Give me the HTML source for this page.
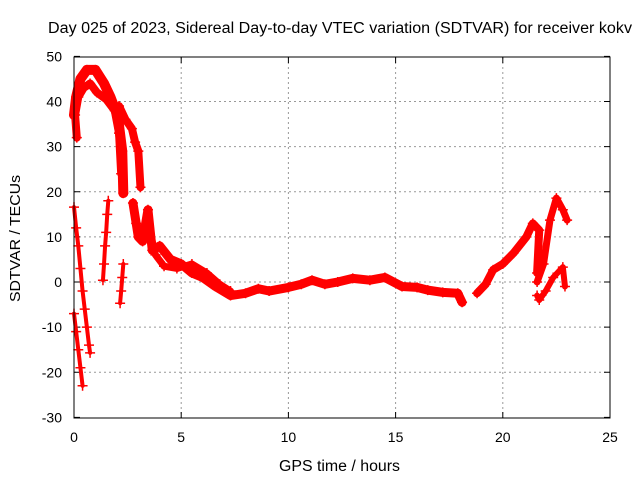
<!DOCTYPE html>
<html><head><meta charset="utf-8"><style>
body{margin:0;background:#fff;}
svg text{font-family:"Liberation Sans",sans-serif;font-size:14px;fill:#000;}
</style></head><body>
<svg id="chart" width="640" height="480" viewBox="0 0 640 480" xmlns="http://www.w3.org/2000/svg">
<text x="48" y="33" textLength="584" lengthAdjust="spacingAndGlyphs" style="font-size:15.5px">Day 025 of 2023, Sidereal Day-to-day VTEC variation (SDTVAR) for receiver kokv</text>
<text x="279" y="471" textLength="121" lengthAdjust="spacingAndGlyphs" style="font-size:15.5px">GPS time / hours</text>
<text transform="translate(20,302) rotate(-90)" textLength="127" lengthAdjust="spacingAndGlyphs" style="font-size:14.5px">SDTVAR / TECUs</text>
<g id="grid"></g><g id="ticks"></g><g id="series"></g>
<rect x="74" y="57" width="536" height="361" fill="none" stroke="#000" stroke-width="1"/>
</svg>
<script>
const xTicks=[0,5,10,15,20,25];
const yTicks=[-30,-20,-10,0,10,20,30,40,50];
// traces: hours / values (TECU)
const arcOuterT=[0,0.1,0.3,0.6,1.0,1.4,1.7,2.05,2.25,2.3];
const arcOuterV=[37,41,45,47,47,44,41,36.6,29,19.7];
const arcInnerT=[0.13,0.05,0.2,0.45,0.75,1.07,1.5,1.9,2.1,2.2];
const arcInnerV=[32,37,41,43,44,42,40.5,38,33,24];
const rightBandT=[2.1,2.4,2.7,2.85,3.0,3.1];
const rightBandV=[39,36,34,31,29,21];
const decayT=[2.75,2.9,3.0,3.2,3.45,3.65,4.0,4.5,5.0,5.5,6.0,6.6,7.3,8.0,8.6,9.1,10,10.6,11.1,11.7,12.3,13.0,13.8,14.5,15.3,16.0,16.5,17.2,17.9,18.1];
const decayV=[17.5,13,10,9,16,7,8,5,4,2,1,-1,-3,-2.5,-1.5,-2,-1.2,-0.5,0.4,-0.5,0,0.8,0.4,1,-1,-1.2,-1.8,-2.3,-2.5,-4.5];
const decay2T=[3.5,3.8,4.2,4.8,5.5,6.2,6.8,7.3];
const decay2V=[12,6,3.5,3,4,2,-0.5,-2];
const lateT=[18.8,19.2,19.55,20,20.5,21.1,21.4,21.7,21.6];
const lateV=[-2.5,-0.5,2.7,4,6.4,10,13,11.5,2];
const loopT=[21.6,21.9,22.2,22.5,22.8,23.0];
const loopV=[0,4,13.7,18.6,16,13.7];
const dipT=[21.6,21.7,22.0,22.35,22.8,22.9];
const dipV=[-3,-4,-2,1,3.3,-1];
const vert1T=[0,0.1,0.2,0.3,0.4,0.5,0.6,0.7,0.75];
const vert1V=[16.6,12,8,3,-2,-6,-10,-14,-15.7];
const vert2T=[0,0.1,0.2,0.3,0.4];
const vert2V=[-7,-11,-15,-19,-23];
const vert3T=[1.35,1.4,1.45,1.5,1.55,1.6];
const vert3V=[0.4,4,8,11,15,18];
const vert4T=[2.15,2.2,2.25,2.3];
const vert4V=[-4.7,-2,1,4];
const traces=[[arcOuterT,arcOuterV,10],[arcInnerT,arcInnerV,8],[rightBandT,rightBandV,8],[decayT,decayV,9],[decay2T,decay2V,7],[lateT,lateV,8],[loopT,loopV,7],[dipT,dipV,6],[vert1T,vert1V,4],[vert2T,vert2V,4],[vert3T,vert3V,4],[vert4T,vert4V,4]];
const X=t=>74+t*(536/25);
const Y=v=>282-v*(361/80);
const NS="http://www.w3.org/2000/svg";
const grid=document.getElementById('grid'),ticks=document.getElementById('ticks'),ser=document.getElementById('series');
function mk(tag,attrs,parent){const e=document.createElementNS(NS,tag);for(const k in attrs)e.setAttribute(k,attrs[k]);parent.appendChild(e);return e;}
xTicks.forEach(t=>{
  if(t>0&&t<25){const g=mk('line',{x1:X(t),x2:X(t),y1:57,y2:418,stroke:'#999','stroke-dasharray':'2,3'},grid);
  
  }
  mk('line',{x1:X(t),x2:X(t),y1:418,y2:412,stroke:'#000'},ticks);
  mk('line',{x1:X(t),x2:X(t),y1:57,y2:63,stroke:'#000'},ticks);
  const l=mk('text',{x:X(t),y:442,'text-anchor':'middle'},ticks);l.textContent=t;
  
  
});
yTicks.forEach(v=>{
  if(v>-30&&v<50){const g=mk('line',{x1:74,x2:610,y1:Y(v),y2:Y(v),stroke:'#999','stroke-dasharray':'2,3'},grid);
  
  }
  mk('line',{x1:74,x2:80,y1:Y(v),y2:Y(v),stroke:'#000'},ticks);
  mk('line',{x1:610,x2:604,y1:Y(v),y2:Y(v),stroke:'#000'},ticks);
  const l=mk('text',{x:62,y:Y(v)+5,'text-anchor':'end'},ticks);l.textContent=v;
  
  
});
traces.forEach(([T,V,w])=>{
  const pts=T.map((t,i)=>X(t)+','+Y(V[i])).join(' ');
  const p=mk('polyline',{points:pts,fill:'none',stroke:'#f00','stroke-width':w,'stroke-linejoin':'round','stroke-linecap':'round'},ser);
  
  
  T.forEach((t,i)=>{
    const x=X(t),y=Y(V[i]);
    const m=mk('path',{d:`M${x-5},${y}h10M${x},${y-5}v10`,stroke:'#f00','stroke-width':1.5},ser);
    
    
  });
});
</script>
</body></html>
